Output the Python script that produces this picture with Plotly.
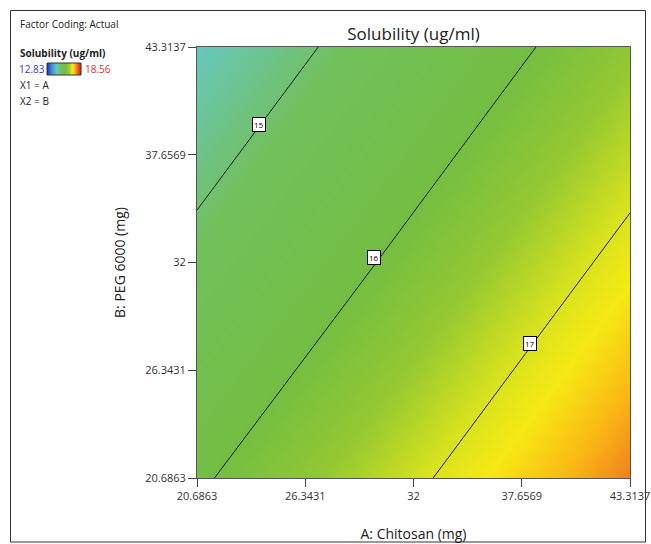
import plotly.graph_objects as go
from plotly.colors import sample_colorscale

# Axis grid (factor levels, mg)
chitosan = [20.6863, 32.0, 43.3137]
peg6000 = [20.6863, 32.0, 43.3137]
# Solubility (ug/ml), rows = PEG 6000, cols = Chitosan
solubility = [
    [15.92, 16.91, 17.90],
    [15.18, 16.17, 17.17],
    [14.44, 15.44, 16.43],
]
tick_vals = [20.6863, 26.3431, 32.0, 37.6569, 43.3137]
tick_text = ["20.6863", "26.3431", "32", "37.6569", "43.3137"]
z_low, z_high = 12.83, 18.56
contour_levels = [15, 16, 17]
# label positions (Chitosan, PEG) for contour labels
label_pos = [(23.93, 39.27), (29.93, 32.24), (38.08, 27.77)]

colorscale = [
    [0.0, "rgb(40,50,200)"],
    [0.14, "rgb(60,150,215)"],
    [0.28, "rgb(102,200,190)"],
    [0.35, "rgb(110,195,135)"],
    [0.40, "rgb(114,192,92)"],
    [0.55, "rgb(115,190,66)"],
    [0.64, "rgb(148,200,50)"],
    [0.72, "rgb(215,226,30)"],
    [0.77, "rgb(246,233,20)"],
    [0.83, "rgb(250,185,20)"],
    [0.89, "rgb(240,122,32)"],
    [1.0, "rgb(225,30,40)"],
]

FONT = "Open Sans, Noto Sans, sans-serif"
L, R, T, B = 197, 630, 47, 478
W, H = 651, 544
pw, ph = R - L, B - T

def px(xp):
    return (xp - L) / pw

def py(yp):
    return (B - yp) / ph

fig = go.Figure()
fig.add_trace(go.Contour(
    x=chitosan, y=peg6000, z=solubility,
    colorscale=colorscale, zauto=False, zmin=z_low, zmax=z_high,
    contours=dict(start=contour_levels[0], end=contour_levels[-1], size=1,
                  coloring="heatmap", showlabels=False),
    line=dict(color="#1a1a1a", width=1),
    showscale=False, hoverinfo="skip",
))

for lv, (ax_, ay_) in zip(contour_levels, label_pos):
    fig.add_annotation(x=ax_, y=ay_, text=str(lv), showarrow=False,
                       font=dict(size=8, color="black", family=FONT),
                       bgcolor="white", bordercolor="black", borderwidth=1, borderpad=1)

axis_common = dict(
    tickvals=tick_vals, ticktext=tick_text, ticks="outside", ticklen=8,
    tickcolor="#444", tickwidth=1, showline=True, linecolor="#555", linewidth=1,
    mirror=True, showgrid=False, zeroline=False, automargin=False,
    tickfont=dict(size=11, color="#333", family=FONT),
    range=[20.6863, 43.3137],
)
fig.update_layout(
    width=W, height=H,
    margin=dict(l=L, r=W - R, t=T, b=H - B, autoexpand=False),
    paper_bgcolor="white", plot_bgcolor="white",
    font=dict(family=FONT),
    title=dict(text="Solubility (ug/ml)", x=(L + R) / 2 / W, xanchor="center",
               y=1 - 34 / H, yanchor="middle",
               font=dict(size=17, color="#222", family=FONT)),
    xaxis=dict(axis_common, title=dict(text="A: Chitosan (mg)", standoff=26,
                                       font=dict(size=14, color="#222", family=FONT))),
    yaxis=dict(axis_common, title=dict(text="B: PEG 6000 (mg)", standoff=16,
                                       font=dict(size=14, color="#222", family=FONT))),
    showlegend=False,
)

# legend colour bar drawn as thin slices
bx0, bx1, by0, by1 = 47, 81, 63, 75
n = bx1 - bx0
cols = sample_colorscale(colorscale, [i / (n - 1) for i in range(n)])
for i, c in enumerate(cols):
    fig.add_shape(type="rect", xref="paper", yref="paper",
                  x0=px(bx0 + i), x1=px(bx0 + i + 1), y0=py(by1), y1=py(by0),
                  fillcolor=c, line=dict(width=0), layer="above")
fig.add_shape(type="rect", xref="paper", yref="paper",
              x0=px(bx0), x1=px(bx1), y0=py(by1), y1=py(by0),
              line=dict(color="#333", width=1))
# outer frame
fig.add_shape(type="rect", xref="paper", yref="paper",
              x0=px(10.5), x1=px(645.5), y0=py(542), y1=py(10.5),
              line=dict(color="#333", width=1))

def txt(x, y, t, size=10, color="#222", bold=False):
    fig.add_annotation(xref="paper", yref="paper", x=px(x), y=py(y),
                       text=("<b>%s</b>" % t) if bold else t,
                       showarrow=False, xanchor="left", yanchor="middle",
                       font=dict(size=size, color=color, family=FONT))

txt(18, 24, "Factor Coding: Actual")
txt(18, 53, "Solubility (ug/ml)", bold=True)
txt(17, 69, "12.83", color="#3a3ab0")
txt(83, 69, "18.56", color="#e03030")
txt(18, 85, "X1 = A")
txt(18, 101, "X2 = B")

fig.write_html("out.html")
